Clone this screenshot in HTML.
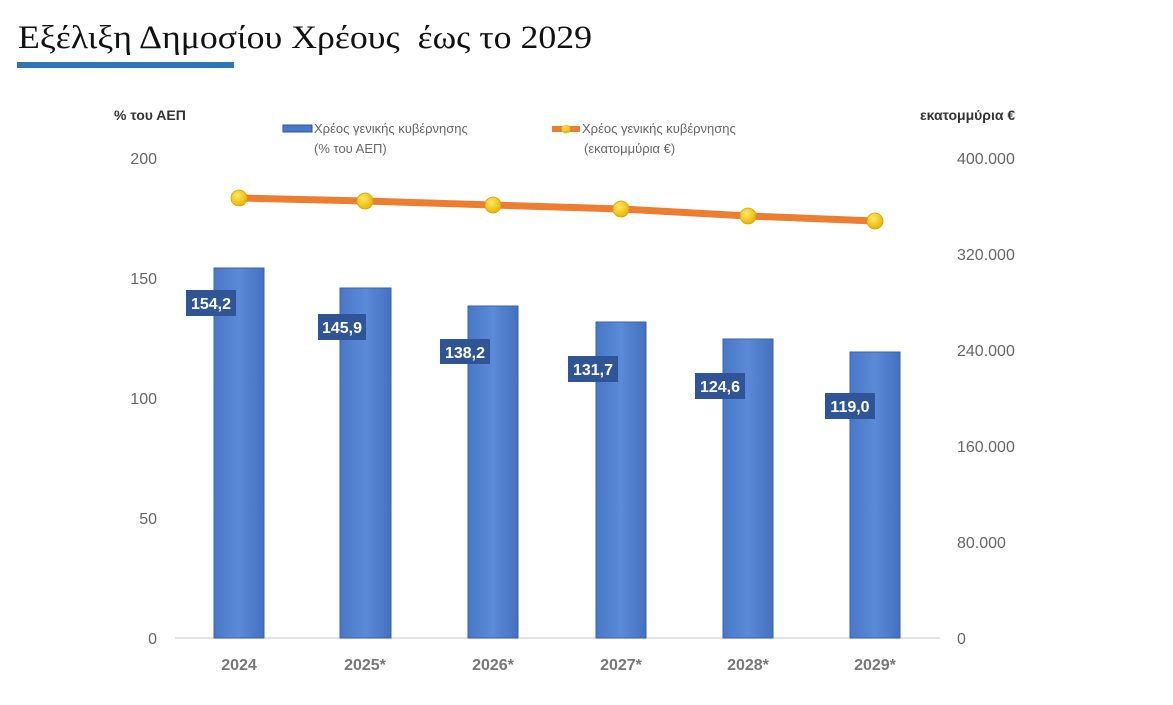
<!DOCTYPE html>
<html><head><meta charset="utf-8"><style>
body{margin:0;background:#fff;}
svg{display:block}
</style></head><body>
<svg width="1173" height="705" xmlns="http://www.w3.org/2000/svg">
<defs>
<linearGradient id="bg" x1="0" x2="1" y1="0" y2="0">
<stop offset="0" stop-color="#4a78c8"/><stop offset="0.5" stop-color="#5b8ad8"/><stop offset="1" stop-color="#4470c0"/>
</linearGradient>
<radialGradient id="mk" cx="0.4" cy="0.35" r="0.7">
<stop offset="0" stop-color="#ffe860"/><stop offset="1" stop-color="#e6b000"/>
</radialGradient>
</defs>
<text x="18" y="48" font-family="Liberation Serif, serif" font-size="33" fill="#111" textLength="574" lengthAdjust="spacingAndGlyphs" style="white-space:pre">Εξέλιξη Δημοσίου Χρέους  έως το 2029</text>
<rect x="17" y="62" width="217" height="6" fill="#2e75b6"/>
<g font-family="Liberation Sans, sans-serif" font-weight="bold" font-size="14" fill="#333">
<text x="114" y="120">% του ΑΕΠ</text>
<text x="920" y="120">εκατομμύρια €</text>
</g>
<g font-family="Liberation Sans, sans-serif" font-size="13" fill="#666">
<rect x="283" y="125" width="29" height="7" fill="#4a78c8" stroke="#2f5597" stroke-width="1"/>
<text x="314" y="133">Χρέος γενικής κυβέρνησης</text>
<text x="314" y="153">(% του ΑΕΠ)</text>
<line x1="552" y1="129" x2="580" y2="129" stroke="#ed7d31" stroke-width="6"/>
<circle cx="566" cy="129" r="4.5" fill="url(#mk)"/>
<text x="582" y="133">Χρέος γενικής κυβέρνησης</text>
<text x="584" y="153">(εκατομμύρια €)</text>
</g>
<g font-family="Liberation Sans, sans-serif" font-size="16" fill="#666" text-anchor="end">
<text x="157" y="164">200</text><text x="157" y="284">150</text><text x="157" y="404">100</text>
<text x="157" y="524">50</text><text x="157" y="644">0</text>
</g>
<g font-family="Liberation Sans, sans-serif" font-size="16" fill="#666">
<text x="957" y="164">400.000</text><text x="957" y="260">320.000</text><text x="957" y="356">240.000</text>
<text x="957" y="452">160.000</text><text x="957" y="548">80.000</text><text x="957" y="644">0</text>
</g>
<line x1="175" y1="638" x2="940" y2="638" stroke="#d9d9d9" stroke-width="1.5"/>
<g fill="url(#bg)" stroke="#3a62a8" stroke-width="1">
<rect x="214" y="268" width="50" height="370"/>
<rect x="340" y="288" width="51" height="350"/>
<rect x="468" y="306" width="50" height="332"/>
<rect x="596" y="322" width="50" height="316"/>
<rect x="723" y="339" width="50" height="299"/>
<rect x="850" y="352" width="50" height="286"/>
</g>
<g fill="#2f5597">
<rect x="186" y="290" width="50" height="26"/>
<rect x="318" y="314" width="48" height="26"/>
<rect x="440" y="339" width="50" height="25"/>
<rect x="568" y="356" width="50" height="26"/>
<rect x="695" y="373" width="50" height="26"/>
<rect x="825" y="393" width="50" height="26"/>
</g>
<g font-family="Liberation Sans, sans-serif" font-weight="bold" font-size="16" fill="#fff" text-anchor="middle">
<text x="211" y="309">154,2</text><text x="342" y="333">145,9</text><text x="465" y="358">138,2</text>
<text x="593" y="375">131,7</text><text x="720" y="392">124,6</text><text x="850" y="412">119,0</text>
</g>
<polyline points="239,198 365,201 493,205 621,209 748,216 875,221" fill="none" stroke="#ed7d31" stroke-width="7" stroke-linejoin="round"/>
<g fill="url(#mk)" stroke="#d9a400" stroke-width="0.8">
<circle cx="239" cy="198" r="8"/><circle cx="365" cy="201" r="8"/><circle cx="493" cy="205" r="8"/>
<circle cx="621" cy="209" r="8"/><circle cx="748" cy="216" r="8"/><circle cx="875" cy="221" r="8"/>
</g>
<g font-family="Liberation Sans, sans-serif" font-weight="bold" font-size="16" fill="#777" text-anchor="middle">
<text x="239" y="670">2024</text><text x="365" y="670">2025*</text><text x="493" y="670">2026*</text>
<text x="621" y="670">2027*</text><text x="748" y="670">2028*</text><text x="875" y="670">2029*</text>
</g>
</svg>
</body></html>
